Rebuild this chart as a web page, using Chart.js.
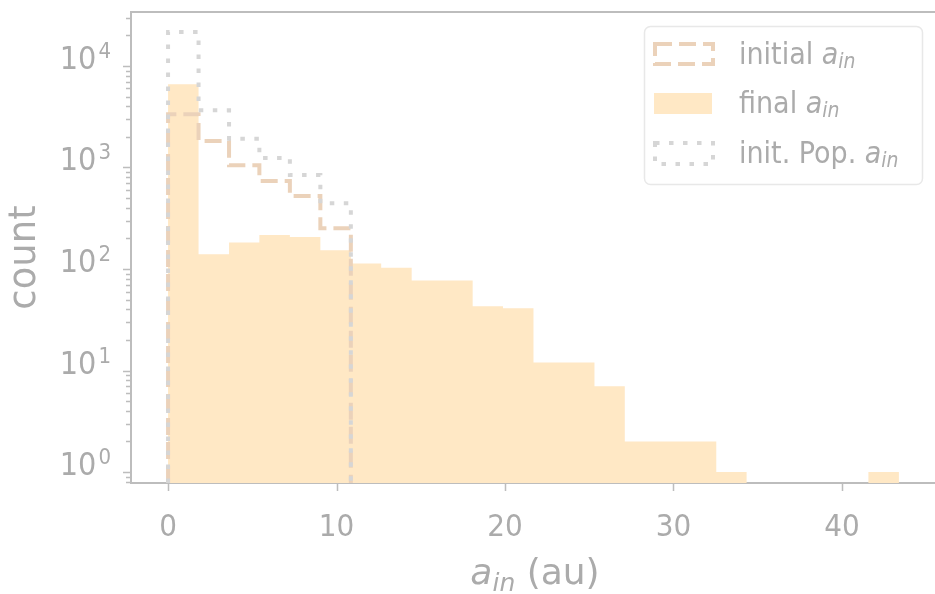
<!DOCTYPE html>
<html>
<head>
<meta charset="utf-8">
<script src="https://cdn.jsdelivr.net/npm/chart.js@4.4.0/dist/chart.umd.min.js"></script>
<style>
  html, body { margin: 0; padding: 0; background: #fff; overflow: hidden; }
  #wrap { position: relative; width: 944px; height: 594px; }
</style>
</head>
<body>
<div id="wrap"><canvas id="hist_chart"></canvas></div>
<script>
// histogram bin edges (au), the same bins are used by all three histograms
var binEdges = [0, 1.81, 3.62, 5.42, 7.23, 9.04, 10.85, 12.65, 14.46, 16.27, 18.08, 19.88,
                21.69, 23.50, 25.31, 27.11, 28.92, 30.73, 32.54, 34.34, 36.15, 37.96, 39.77, 41.57, 43.38];

// counts per bin
var finalCounts   = [6600, 140, 182, 216, 207, 153, 113, 103, 77, 77, 43, 41, 12, 12, 7, 2, 2, 2, 1, 0, 0, 0, 0, 1];
var initialCounts = [3340, 1820, 1050, 736, 523, 252];
var initPopCounts = [21600, 3660, 1920, 1240, 843, 444];

// axes
var xTicks = [0, 10, 20, 30, 40];
var yTicks = [1, 10, 100, 1000, 10000];
var yTickExp = ['0', '1', '2', '3', '4'];
var xMin = -2.2, xMax = 45.82;
var yMin = 0.78, yMax = 34000;

var FONT = '"DejaVu Sans Condensed", "DejaVu Sans", sans-serif';
var LABEL_FONT = '"DejaVu Sans", sans-serif';
var textColor = '#ababab';
var spineColor = '#bdbdbd';
var fillColor = '#ffe8c5';
var dashColor = '#ebd2ba';
var dotColor = '#d6d6d6';

// outline of a step histogram, empty bins sit on the axis floor
function stepOutline(edges, counts) {
  var pts = [{x: edges[0], y: yMin}];
  for (var i = 0; i < counts.length; i++) {
    var c = counts[i] > 0 ? counts[i] : yMin;
    pts.push({x: edges[i], y: c});
    pts.push({x: edges[i + 1], y: c});
  }
  pts.push({x: edges[counts.length], y: yMin});
  return pts;
}

// draws  prefix + italic a + subscript "in" + suffix
function drawAin(ctx, x, y, size, fam, prefix, suffix, subShift, align) {
  var normal = size + 'px ' + fam;
  var ital = 'italic ' + size + 'px ' + fam;
  var small = 'italic ' + Math.round(size * 0.7) + 'px ' + fam;
  ctx.font = normal; var w1 = ctx.measureText(prefix).width;
  ctx.font = ital; var w2 = ctx.measureText('a').width;
  ctx.font = small; var w3 = ctx.measureText('in').width;
  ctx.font = normal; var w4 = ctx.measureText(suffix).width;
  var x0 = align === 'center' ? x - (w1 + w2 + w3 + w4) / 2 : x;
  ctx.textBaseline = 'alphabetic';
  ctx.textAlign = 'left';
  ctx.font = normal; ctx.fillText(prefix, x0, y);
  ctx.font = ital; ctx.fillText('a', x0 + w1, y);
  ctx.font = small; ctx.fillText('in', x0 + w1 + w2, y + subShift);
  ctx.font = normal; ctx.fillText(suffix, x0 + w1 + w2 + w3, y);
}

var extrasPlugin = {
  id: 'extras',
  afterDraw: function(chart) {
    var ctx = chart.ctx, a = chart.chartArea;
    var xs = chart.scales.x, ys = chart.scales.y;
    ctx.save();
    // top spine
    ctx.strokeStyle = spineColor; ctx.lineWidth = 2; ctx.setLineDash([]);
    ctx.beginPath();
    ctx.moveTo(a.left, a.top); ctx.lineTo(a.right, a.top);
    ctx.stroke();
    // tick marks
    ctx.lineWidth = 1.5;
    ctx.beginPath();
    xTicks.forEach(function(v) {
      var px = Math.round(xs.getPixelForValue(v)) + 0.5;
      ctx.moveTo(px, a.bottom); ctx.lineTo(px, a.bottom + 8);
    });
    for (var p = -1; p <= 4; p++) {
      for (var k = 1; k <= 9; k++) {
        var v = k * Math.pow(10, p);
        if (v < yMin || v > yMax) continue;
        var py = Math.round(ys.getPixelForValue(v)) + 0.5;
        ctx.moveTo(a.left, py); ctx.lineTo(a.left - (k === 1 ? 8 : 5), py);
      }
    }
    ctx.stroke();

    // y tick labels 10^n
    ctx.fillStyle = textColor;
    ctx.textBaseline = 'alphabetic';
    ctx.textAlign = 'left';
    yTicks.forEach(function(v, i) {
      var py = ys.getPixelForValue(v);
      ctx.font = '32px ' + FONT; var wm = ctx.measureText('10').width;
      ctx.font = '22px ' + FONT; var ws = ctx.measureText(yTickExp[i]).width;
      var x0 = 111 - wm - ws - 2;
      ctx.font = '32px ' + FONT; ctx.fillText('10', x0, py + 3);
      ctx.font = '22px ' + FONT; ctx.fillText(yTickExp[i], x0 + wm + 2, py - 8);
    });

    // y axis label
    ctx.save();
    ctx.translate(25, (a.top + a.bottom) / 2 + 10);
    ctx.rotate(-Math.PI / 2);
    ctx.font = '37px ' + LABEL_FONT;
    ctx.textAlign = 'center';
    ctx.textBaseline = 'middle';
    ctx.fillText('count', 0, 0);
    ctx.restore();

    // x axis label
    drawAin(ctx, 535, 584, 36, LABEL_FONT, '', ' (au)', 7, 'center');

    // legend
    ctx.beginPath();
    ctx.roundRect(644.5, 26.5, 278, 158, 6);
    ctx.fillStyle = 'rgba(255,255,255,0.8)'; ctx.fill();
    ctx.strokeStyle = '#e8e8e8'; ctx.lineWidth = 1.5; ctx.stroke();

    ctx.lineWidth = 4;
    ctx.strokeStyle = dashColor; ctx.setLineDash([17, 7]);
    ctx.strokeRect(655, 44, 58, 20);
    ctx.setLineDash([]);
    ctx.fillStyle = fillColor;
    ctx.fillRect(654, 93, 58, 21);
    ctx.strokeStyle = dotColor; ctx.setLineDash([4.5, 9.5]);
    ctx.strokeRect(655, 143, 58, 21);
    ctx.setLineDash([]);

    ctx.fillStyle = textColor;
    drawAin(ctx, 739, 63.5, 30, FONT, 'initial ', '', 4, 'left');
    drawAin(ctx, 739, 113, 30, FONT, 'final ', '', 4, 'left');
    drawAin(ctx, 739, 162.5, 30, FONT, 'init. Pop. ', '', 4, 'left');
    ctx.restore();
  }
};

var ctx1 = document.getElementById('hist_chart');
var histchart = new Chart(ctx1, {
  type: 'line',
  data: {
    datasets: [{
      label: 'final a_in',
      data: stepOutline(binEdges, finalCounts),
      fill: 'start',
      backgroundColor: fillColor,
      borderColor: 'rgba(0,0,0,0)',
      borderWidth: 0,
      pointRadius: 0,
      order: 3
    }, {
      label: 'initial a_in',
      data: stepOutline(binEdges, initialCounts),
      fill: false,
      borderColor: dashColor,
      borderWidth: 4,
      borderDash: [17, 7],
      pointRadius: 0,
      order: 2
    }, {
      label: 'init. Pop. a_in',
      data: stepOutline(binEdges, initPopCounts),
      fill: false,
      borderColor: dotColor,
      borderWidth: 4,
      borderDash: [4.5, 9.5],
      pointRadius: 0,
      order: 1
    }]
  },
  options: {
    responsive: true,
    maintainAspectRatio: false,
    animation: false,
    layout: {
      padding: { left: 0, right: 4, top: 12, bottom: 0 }
    },
    plugins: {
      legend: { display: false },
      tooltip: { enabled: false }
    },
    scales: {
      x: {
        type: 'linear',
        min: xMin,
        max: xMax,
        afterBuildTicks: function(scale) {
          scale.ticks = xTicks.map(function(v) { return {value: v}; });
        },
        afterFit: function(scale) {
          scale.height = 111;
          scale.paddingLeft = 0; scale.paddingRight = 0;
        },
        grid: { display: false, drawTicks: true, tickLength: 8 },
        border: { display: true, color: spineColor, width: 2 },
        ticks: {
          color: textColor,
          font: { family: FONT, size: 31 },
          padding: 18,
          maxRotation: 0,
          autoSkip: false
        }
      },
      y: {
        type: 'logarithmic',
        min: yMin,
        max: yMax,
        afterBuildTicks: function(scale) {
          scale.ticks = yTicks.map(function(v) { return {value: v}; });
        },
        afterFit: function(scale) {
          scale.width = 131;
          scale.paddingTop = 0; scale.paddingBottom = 0;
        },
        grid: { display: false, drawTicks: true, tickLength: 8 },
        border: { display: true, color: spineColor, width: 2 },
        ticks: { display: false },
        title: { display: false, text: 'count' }
      }
    }
  },
  plugins: [extrasPlugin]
});
</script>
</body>
</html>
